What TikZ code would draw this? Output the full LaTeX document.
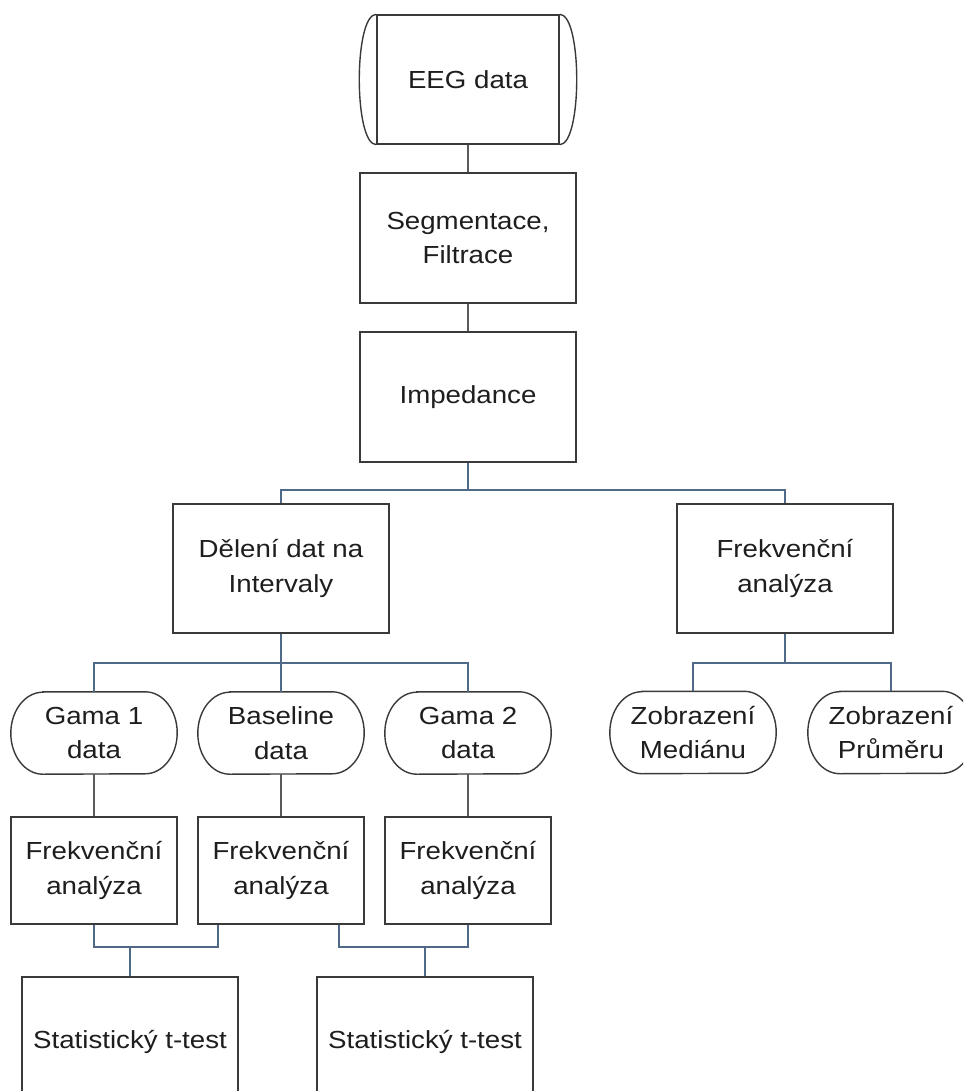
\documentclass[tikz,border=0pt]{standalone}
\usepackage{fontspec}
\setmainfont{Liberation Sans}[FakeStretch=1.12]
\newcommand{\dgfont}{\fontsize{24.7}{34.5}\selectfont}
\definecolor{boxc}{HTML}{3A3A3A}
\definecolor{grayc}{HTML}{5A5A5A}
\definecolor{bluec}{HTML}{4E6A88}
\definecolor{txtc}{HTML}{1E1E1E}
\begin{document}
\begin{tikzpicture}[x=1pt,y=1pt,
  boxline/.style={draw=boxc, line width=1.4pt},
  box/.style={boxline, fill=white, minimum width=216pt, minimum height=130pt,
    align=center, inner sep=0pt, font=\dgfont, text=txtc},
  smallbox/.style={box, minimum width=166pt, minimum height=107pt},
  term/.style={minimum width=166pt, minimum height=82pt, align=center,
    inner sep=0pt, font=\dgfont, text=txtc},
  plain/.style={draw=grayc, line width=1.8pt},
  tree/.style={draw=bluec, line width=1.5pt}]
\clip (0,0) rectangle (963,-1091);
\fill[white] (0,0) rectangle (963,-1091);

% top chain
\node[box, minimum width=182pt, minimum height=129pt] (eeg) at (468,-79.5) {EEG data};
\draw[boxline] (eeg.north west) .. controls +(-22.7,0) and +(-22.7,0) .. (eeg.south west);
\draw[boxline] (eeg.north east) .. controls +(22.7,0) and +(22.7,0) .. (eeg.south east);
\node[box] (seg) at (468,-238) {Segmentace,\\Filtrace};
\node[box] (imp) at (468,-397) {Impedance};

% second level
\node[box, minimum height=129pt] (del) at (281,-568.5) {Dělení dat na\\Intervaly};
\node[box, minimum height=129pt] (frr) at (785,-568.5) {Frekvenční\\analýza};

% terminators
\node[term] (g1) at (94,-733) {Gama 1\\data};
\node[term] (bl) at (281,-733) {Baseline\\data};
\node[term] (g2) at (468,-733) {Gama 2\\data};
\node[term] (zm) at (693,-732.5) {Zobrazení\\Mediánu};
\node[term] (zp) at (891,-732.5) {Zobrazení\\Průměru};
\foreach \n in {g1,bl,g2,zm,zp}{
  \draw[boxline] ([xshift=32pt]\n.north west) -- ([xshift=-32pt]\n.north east)
    arc[start angle=90, end angle=-90, x radius=32pt, y radius=41pt]
    -- ([xshift=32pt]\n.south west)
    arc[start angle=270, end angle=90, x radius=32pt, y radius=41pt] -- cycle;
}

% frequency analysis boxes
\node[smallbox] (f1) at (94,-870.5) {Frekvenční\\analýza};
\node[smallbox] (f2) at (281,-870.5) {Frekvenční\\analýza};
\node[smallbox] (f3) at (468,-870.5) {Frekvenční\\analýza};

% t-tests
\node[box] (s1) at (130,-1042) {Statistický t-test};
\node[box] (s2) at (425,-1042) {Statistický t-test};

% junctions
\coordinate (ja) at (468,-490);
\coordinate (jb) at (281,-663);
\coordinate (jc) at (785,-663);
\coordinate (jd) at (130,-947);
\coordinate (je) at (425,-947);

% connectors
\draw[plain] (eeg.south) -- (seg.north);
\draw[plain] (seg.south) -- (imp.north);
\draw[tree] (imp.south) -- (ja) -| (del.north);
\draw[tree] (ja) -| (frr.north);
\draw[tree] (del.south) -- (jb) -| (g1.north);
\draw[tree] (jb) -- (bl.north);
\draw[tree] (jb) -| (g2.north);
\draw[tree] (frr.south) -- (jc) -| (zm.north);
\draw[tree] (jc) -| (zp.north);
\draw[plain] (g1.south) -- (f1.north);
\draw[plain] (bl.south) -- (f2.north);
\draw[plain] (g2.south) -- (f3.north);
\draw[tree] (f1.south) |- (jd) -| ([xshift=-63pt]f2.south);
\draw[tree] (jd) -- (s1.north);
\draw[tree] ([xshift=58pt]f2.south) |- (je) -| (f3.south);
\draw[tree] (je) -- (s2.north);
\end{tikzpicture}
\end{document}
